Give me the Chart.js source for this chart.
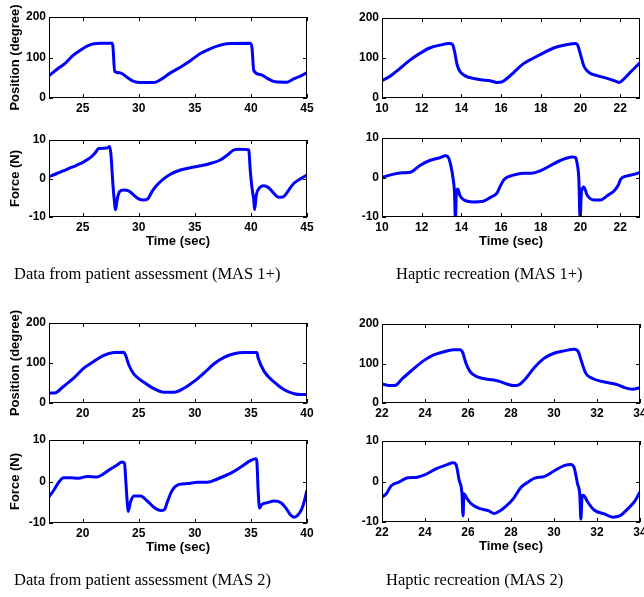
<!DOCTYPE html>
<html>
<head>
<meta charset="utf-8">
<script src="https://cdn.jsdelivr.net/npm/chart.js@4.4.1/dist/chart.umd.min.js"></script>
<style>
  html, body { margin: 0; padding: 0; background: #ffffff; }
  #page { position: relative; width: 644px; height: 597px; overflow: hidden; background: #ffffff; }
  #page canvas { position: absolute; }
  .caption {
    position: absolute;
    font-family: "Liberation Serif", "Times New Roman", serif;
    font-size: 16.5px;
    color: #000;
    white-space: nowrap;
    line-height: 20px;
  }
</style>
</head>
<body>
<div id="page">
  <canvas id="c1"></canvas>
  <canvas id="c2"></canvas>
  <canvas id="c3"></canvas>
  <canvas id="c4"></canvas>
  <canvas id="c5"></canvas>
  <canvas id="c6"></canvas>
  <canvas id="c7"></canvas>
  <canvas id="c8"></canvas>
  <div class="caption" style="left:14px; top:264px;">Data from patient assessment (MAS 1+)</div>
  <div class="caption" style="left:396px; top:264px;">Haptic recreation (MAS 1+)</div>
  <div class="caption" style="left:14px; top:570px;">Data from patient assessment (MAS 2)</div>
  <div class="caption" style="left:386px; top:570px;">Haptic recreation (MAS 2)</div>
</div>
<script>
// ---- Tick labels ----
const positionTicks = [0, 100, 200];
const forceTicks = [-10, 0, 10];
const timeTicksPatient1 = [25, 30, 35, 40, 45];
const timeTicksHaptic1 = [10, 12, 14, 16, 18, 20, 22];
const timeTicksPatient2 = [20, 25, 30, 35, 40];
const timeTicksHaptic2 = [22, 24, 26, 28, 30, 32, 34];

// ---- MAS 1+ : patient assessment ----
const patient1PosTime = [22.00, 22.86, 23.46, 24.05, 24.79, 25.39, 25.98, 26.58, 27.62, 27.70, 27.85, 28.36, 28.95, 29.55, 30.14, 31.33, 31.93, 32.82, 33.71, 34.60, 35.49, 36.09, 36.98, 37.87, 39.95, 40.10, 40.25, 40.84, 41.43, 42.18, 43.22, 43.81, 44.41, 45.00];
const patient1Position = [55, 74, 86, 103, 118, 128, 134, 135, 135, 127, 66, 62, 51, 41, 38, 38, 45, 62, 76, 92, 110, 118, 128, 134, 135, 123, 68, 58, 49, 40, 39, 47, 54, 63];
const patient1ForceTime = [22.00, 22.71, 23.60, 24.50, 25.09, 25.68, 26.13, 26.43, 27.17, 27.41, 27.53, 27.68, 27.79, 27.94, 28.09, 28.30, 28.66, 29.10, 29.55, 29.99, 30.44, 30.80, 31.18, 31.63, 32.22, 32.82, 33.71, 34.60, 35.49, 36.38, 37.27, 37.87, 38.46, 38.91, 39.80, 39.95, 40.10, 40.25, 40.33, 40.48, 40.69, 41.14, 41.58, 42.03, 42.47, 42.92, 43.37, 43.81, 44.41, 45.00];
const patient1Force = [0.5, 1.3, 2.4, 3.5, 4.3, 5.4, 6.7, 7.8, 7.9, 8.3, 6.0, -0.8, -4.7, -8.1, -5.3, -3.4, -3.0, -3.2, -4.3, -5.3, -5.6, -5.3, -3.4, -1.7, -0.1, 1.1, 2.2, 2.8, 3.3, 3.9, 4.8, 6.0, 7.4, 7.6, 7.5, 1.8, -2.5, -5.5, -8.1, -4.3, -2.7, -1.9, -2.4, -3.8, -4.9, -4.7, -3.0, -1.3, -0.1, 0.9];

// ---- MAS 1+ : haptic recreation ----
const haptic1PosTime = [10.00, 10.37, 10.88, 11.39, 11.89, 12.40, 12.91, 13.41, 13.55, 13.67, 13.78, 13.92, 14.17, 14.59, 15.10, 15.44, 15.78, 16.03, 16.28, 16.62, 17.13, 17.64, 18.14, 18.65, 19.16, 19.75, 19.86, 20.00, 20.17, 20.42, 20.84, 21.35, 21.77, 21.94, 22.11, 22.45, 22.79, 23.00];
const haptic1Position = [44, 53, 73, 94, 111, 125, 132, 136, 134, 113, 84, 67, 56, 49, 45, 43, 39, 40, 48, 63, 86, 100, 113, 125, 132, 136, 132, 109, 80, 64, 56, 49, 42, 39, 44, 61, 78, 88];
const haptic1ForceTime = [10.00, 10.54, 11.05, 11.47, 11.89, 12.40, 12.91, 13.21, 13.33, 13.46, 13.58, 13.65, 13.70, 13.75, 13.82, 13.92, 14.17, 14.59, 15.10, 15.44, 15.78, 15.95, 16.15, 16.62, 17.13, 17.55, 17.97, 18.48, 18.99, 19.58, 19.75, 19.83, 19.92, 19.98, 20.05, 20.17, 20.34, 20.68, 21.01, 21.35, 21.69, 21.91, 22.03, 22.36, 22.70, 23.00];
const haptic1Force = [0.0, 0.8, 1.2, 1.4, 3.0, 4.3, 5.0, 5.5, 5.2, 3.2, -0.2, -3.6, -10.5, -3.6, -2.9, -4.5, -5.8, -6.2, -6.0, -5.1, -4.0, -2.3, -0.5, 0.6, 1.1, 1.1, 1.7, 3.0, 4.3, 5.2, 5.1, 3.6, -0.6, -10.5, -3.6, -2.4, -4.5, -5.7, -5.7, -4.6, -3.4, -1.9, -0.4, 0.4, 0.8, 1.3];

// ---- MAS 2 : patient assessment ----
const patient2PosTime = [17.00, 17.50, 18.31, 19.20, 20.10, 20.99, 21.89, 22.78, 23.67, 23.82, 24.12, 24.57, 25.46, 26.35, 27.25, 28.14, 29.03, 29.93, 30.82, 31.72, 32.61, 33.50, 34.40, 35.53, 35.65, 36.18, 37.08, 37.97, 38.86, 39.46, 40.00];
const patient2Position = [25, 25, 42, 62, 87, 104, 119, 126, 127, 120, 95, 72, 52, 36, 27, 27, 37, 54, 75, 98, 114, 123, 126, 126, 112, 79, 52, 33, 23, 21, 21];
const patient2ForceTime = [17.00, 17.42, 17.86, 18.31, 18.91, 19.65, 20.40, 21.29, 21.89, 22.48, 23.08, 23.52, 23.73, 23.85, 23.97, 24.06, 24.27, 24.57, 25.16, 25.76, 26.35, 26.95, 27.31, 27.55, 27.99, 28.59, 29.33, 30.23, 31.12, 32.01, 33.21, 34.10, 35.00, 35.44, 35.53, 35.65, 35.77, 35.95, 36.48, 37.08, 37.67, 38.12, 38.51, 38.86, 39.31, 39.61, 40.00];
const patient2Force = [-3.7, -2.1, -0.2, 0.9, 0.9, 0.8, 1.2, 1.1, 1.9, 3.0, 4.0, 4.7, 4.4, 0.0, -4.9, -7.2, -4.9, -3.5, -3.5, -4.7, -6.2, -7.0, -6.7, -4.9, -2.1, -0.7, -0.5, -0.2, -0.2, 0.6, 2.0, 3.5, 5.1, 5.5, 4.8, -2.5, -6.4, -5.6, -5.1, -4.7, -5.1, -6.4, -8.0, -8.6, -7.7, -6.1, -2.1];

// ---- MAS 2 : haptic recreation ----
const haptic2PosTime = [22.00, 22.42, 22.63, 22.97, 23.44, 23.91, 24.38, 24.84, 25.31, 25.63, 25.75, 25.91, 26.09, 26.33, 26.72, 27.19, 27.50, 27.81, 28.13, 28.36, 28.67, 29.06, 29.53, 30.00, 30.47, 30.94, 31.13, 31.28, 31.48, 31.80, 32.19, 32.66, 32.97, 33.28, 33.67, 34.00];
const haptic2Position = [48, 44, 45, 63, 85, 106, 121, 129, 135, 135, 128, 100, 80, 69, 62, 58, 54, 48, 44, 46, 61, 88, 113, 126, 132, 136, 130, 105, 75, 62, 55, 50, 46, 39, 35, 39];
const haptic2ForceTime = [22.00, 22.19, 22.42, 22.81, 23.20, 23.59, 24.06, 24.53, 25.00, 25.31, 25.44, 25.59, 25.72, 25.77, 25.81, 25.94, 26.17, 26.56, 26.95, 27.22, 27.50, 27.81, 28.13, 28.44, 28.75, 29.14, 29.53, 30.00, 30.47, 30.78, 30.94, 31.09, 31.20, 31.25, 31.31, 31.41, 31.56, 31.88, 32.34, 32.73, 33.05, 33.44, 33.75, 34.00];
const haptic2Force = [-3.8, -3.1, -1.1, -0.1, 0.9, 1.0, 1.8, 3.2, 4.1, 4.6, 4.2, 0.3, -3.0, -8.5, -3.0, -4.1, -5.6, -6.7, -7.2, -7.9, -7.2, -5.9, -4.1, -1.6, -0.3, 0.9, 1.2, 2.6, 3.9, 4.2, 3.4, -0.5, -3.4, -9.3, -3.4, -3.6, -5.0, -7.1, -8.0, -8.8, -8.5, -6.7, -4.9, -2.6];

const TICK_FONT = { family: "'Liberation Sans', Arial, sans-serif", size: 12, weight: 'bold' };
const TITLE_FONT_CSS = "bold 13px 'Liberation Sans', Arial, sans-serif";

// Box around the plot area with MATLAB-style inward ticks on all four sides,
// plus the vertical axis title.
const boxPlugin = {
  id: 'matlabBox',
  afterDatasetsDraw(chart, args, opts) {
    const { ctx, chartArea: a, scales } = chart;
    ctx.save();
    ctx.strokeStyle = '#000';
    ctx.lineWidth = 1;
    ctx.strokeRect(a.left + 0.5, a.top + 0.5, a.right - a.left - 1, a.bottom - a.top - 1);
    const len = 4;
    ctx.beginPath();
    scales.x.ticks.forEach(t => {
      const px = Math.round(scales.x.getPixelForValue(t.value)) + 0.5;
      ctx.moveTo(px, a.bottom); ctx.lineTo(px, a.bottom - len);
      ctx.moveTo(px, a.top); ctx.lineTo(px, a.top + len);
    });
    scales.y.ticks.forEach(t => {
      const py = Math.round(scales.y.getPixelForValue(t.value)) + 0.5;
      ctx.moveTo(a.left, py); ctx.lineTo(a.left + len, py);
      ctx.moveTo(a.right, py); ctx.lineTo(a.right - len, py);
    });
    ctx.stroke();
    if (opts && opts.yTitle) {
      ctx.fillStyle = '#000';
      ctx.font = TITLE_FONT_CSS;
      ctx.textAlign = 'center';
      ctx.textBaseline = 'middle';
      ctx.translate(opts.yTitleX, (a.top + a.bottom) / 2);
      ctx.rotate(-Math.PI / 2);
      ctx.fillText(opts.yTitle, 0, 0);
    }
    ctx.restore();
  }
};

// Draws one panel with its plot area at the given page rectangle.
function panel(id, rect, cfg) {
  const L = rect.leftMargin, T = 22, B = 32;
  const canvas = document.getElementById(id);
  const cLeft = rect.left - L;
  const cTop = rect.top - T;
  const cWidth = rect.canvasRight - cLeft;
  const cHeight = T + (rect.bottom - rect.top) + B;
  canvas.style.left = cLeft + 'px';
  canvas.style.top = cTop + 'px';
  canvas.width = cWidth; canvas.height = cHeight;
  canvas.style.width = cWidth + 'px'; canvas.style.height = cHeight + 'px';
  const R = rect.canvasRight - rect.right;

  new Chart(canvas, {
    type: 'line',
    data: {
      datasets: [{
        data: cfg.x.map((t, i) => ({ x: t, y: cfg.y[i] })),
        borderColor: '#0000ff',
        borderWidth: 3,
        pointRadius: 0,
        cubicInterpolationMode: 'monotone',
        fill: false
      }]
    },
    options: {
      responsive: false,
      animation: false,
      devicePixelRatio: 1,
      layout: { padding: { left: 0, right: R, top: T, bottom: 0 } },
      plugins: {
        legend: { display: false },
        tooltip: { enabled: false },
        matlabBox: { yTitle: cfg.yTitle, yTitleX: 15 - cLeft }
      },
      scales: {
        x: {
          type: 'linear',
          min: cfg.xMin, max: cfg.xMax,
          grid: { display: false, drawTicks: false },
          border: { display: false },
          ticks: { font: TICK_FONT, color: '#000', padding: 3, autoSkip: false, maxRotation: 0 },
          title: {
            display: !!cfg.xTitle, text: cfg.xTitle || '',
            font: { family: "'Liberation Sans', Arial, sans-serif", size: 13, weight: 'bold' },
            color: '#000', padding: { top: 0, bottom: 0 }
          },
          afterBuildTicks: s => { s.ticks = cfg.xTicks.map(v => ({ value: v })); },
          afterFit: s => { s.height = B; s.paddingLeft = 0; s.paddingRight = 0; }
        },
        y: {
          min: cfg.yMin, max: cfg.yMax,
          grid: { display: false, drawTicks: false },
          border: { display: false },
          ticks: { font: TICK_FONT, color: '#000', padding: 3 },
          afterBuildTicks: s => { s.ticks = cfg.yTicks.map(v => ({ value: v })); },
          afterFit: s => { s.width = L; s.paddingTop = 0; s.paddingBottom = 0; }
        }
      }
    },
    plugins: [boxPlugin]
  });
}

const LEFT_COL = { left: 49, right: 307, leftMargin: 49, canvasRight: 320 };
const RIGHT_COL = { left: 382, right: 640, leftMargin: 40, canvasRight: 644 };

panel('c1', { ...LEFT_COL, top: 17, bottom: 98 }, {
  x: patient1PosTime, y: patient1Position, xMin: 22, xMax: 45, xTicks: timeTicksPatient1,
  yMin: 0, yMax: 200, yTicks: positionTicks, yTitle: 'Position (degree)'
});
panel('c2', { ...LEFT_COL, top: 140, bottom: 217 }, {
  x: patient1ForceTime, y: patient1Force, xMin: 22, xMax: 45, xTicks: timeTicksPatient1,
  yMin: -10, yMax: 10, yTicks: forceTicks, yTitle: 'Force (N)', xTitle: 'Time (sec)'
});
panel('c3', { ...RIGHT_COL, top: 18, bottom: 98 }, {
  x: haptic1PosTime, y: haptic1Position, xMin: 10, xMax: 23, xTicks: timeTicksHaptic1,
  yMin: 0, yMax: 200, yTicks: positionTicks
});
panel('c4', { ...RIGHT_COL, top: 138, bottom: 217 }, {
  x: haptic1ForceTime, y: haptic1Force, xMin: 10, xMax: 23, xTicks: timeTicksHaptic1,
  yMin: -10, yMax: 10, yTicks: forceTicks, xTitle: 'Time (sec)'
});
panel('c5', { ...LEFT_COL, top: 323, bottom: 403 }, {
  x: patient2PosTime, y: patient2Position, xMin: 17, xMax: 40, xTicks: timeTicksPatient2,
  yMin: 0, yMax: 200, yTicks: positionTicks, yTitle: 'Position (degree)'
});
panel('c6', { ...LEFT_COL, top: 440, bottom: 523 }, {
  x: patient2ForceTime, y: patient2Force, xMin: 17, xMax: 40, xTicks: timeTicksPatient2,
  yMin: -10, yMax: 10, yTicks: forceTicks, yTitle: 'Force (N)', xTitle: 'Time (sec)'
});
panel('c7', { ...RIGHT_COL, top: 324, bottom: 403 }, {
  x: haptic2PosTime, y: haptic2Position, xMin: 22, xMax: 34, xTicks: timeTicksHaptic2,
  yMin: 0, yMax: 200, yTicks: positionTicks
});
panel('c8', { ...RIGHT_COL, top: 441, bottom: 522 }, {
  x: haptic2ForceTime, y: haptic2Force, xMin: 22, xMax: 34, xTicks: timeTicksHaptic2,
  yMin: -10, yMax: 10, yTicks: forceTicks, xTitle: 'Time (sec)'
});
</script>
</body>
</html>
